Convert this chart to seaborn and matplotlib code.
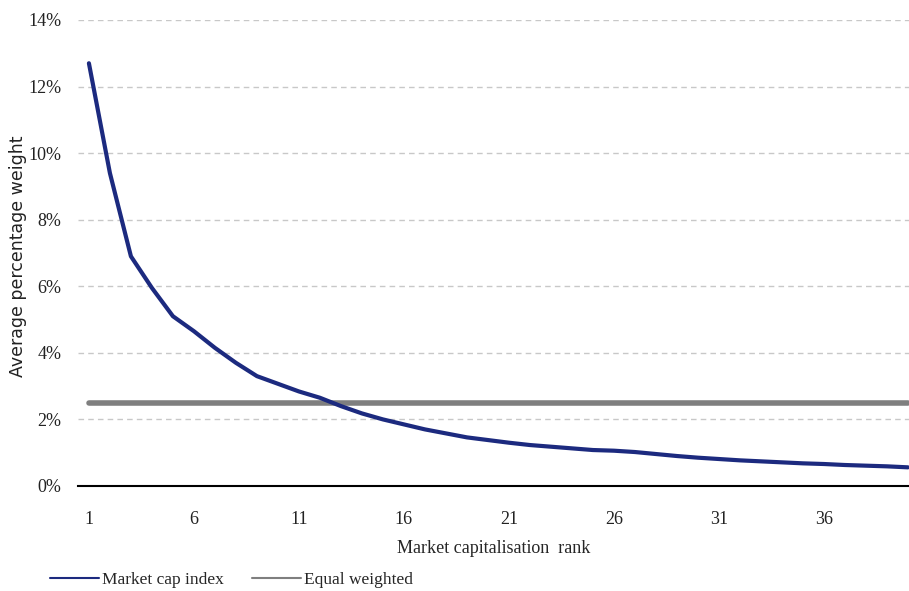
import numpy as np
import pandas as pd
import matplotlib
matplotlib.use('Agg')
import matplotlib.pyplot as plt
import seaborn as sns
from matplotlib.ticker import PercentFormatter

# values (percent weight by rank)
ranks = list(range(1, 41))
market_cap = [12.7, 9.4, 6.9, 5.95, 5.1, 4.65, 4.15, 3.7, 3.3, 3.07,
              2.84, 2.65, 2.4, 2.18, 2.0, 1.85, 1.7, 1.58, 1.46, 1.38,
              1.3, 1.23, 1.18, 1.13, 1.08, 1.06, 1.02, 0.96, 0.9, 0.85,
              0.81, 0.77, 0.74, 0.71, 0.68, 0.66, 0.63, 0.61, 0.59, 0.56]
equal_weight = [2.5] * 40
xtick_labels = [1, 6, 11, 16, 21, 26, 31, 36]
ytick_values = [0, 2, 4, 6, 8, 10, 12, 14]

df = pd.DataFrame({'rank': ranks,
                   'Market cap index': market_cap,
                   'Equal weighted': equal_weight})

sns.set_style('white')
plt.rcParams['font.family'] = ['Liberation Serif', 'DejaVu Serif']

fig = plt.figure(figsize=(9.09, 5.91), dpi=100)
ax = fig.add_axes([0.0858, 0.1777, 1.0 - 0.0858, 0.9662 - 0.1777])

sns.lineplot(data=df, x='rank', y='Equal weighted', ax=ax, color='#7f7f7f',
             lw=4, label='Equal weighted', zorder=3)
sns.lineplot(data=df, x='rank', y='Market cap index', ax=ax, color='#1c2a7f',
             lw=3, label='Market cap index', zorder=4)

ax.set_xlim(0.48, 40.05)
ax.set_ylim(0, 14)
ax.set_yticks(ytick_values)
ax.yaxis.set_major_formatter(PercentFormatter(decimals=0))
ax.set_xticks(xtick_labels)
ax.set_xticklabels([str(v) for v in xtick_labels])

ax.grid(axis='y', linestyle=(0, (4, 3)), color='#c8c8c8', lw=1)
ax.grid(axis='x', visible=False)
for side in ['left', 'right', 'top']:
    ax.spines[side].set_visible(False)
ax.spines['bottom'].set_color('black')
ax.spines['bottom'].set_linewidth(1.5)
ax.tick_params(axis='both', length=0, labelsize=13, colors='#222222')
ax.tick_params(axis='y', pad=12)
ax.tick_params(axis='x', pad=18)

ax.set_xlabel('Market capitalisation  rank', fontsize=13, labelpad=9)
ax.set_ylabel('')
fig.text(0.02, 0.567, 'Average percentage weight', rotation=90,
         ha='center', va='center', fontsize=12.5,
         family=['DejaVu Sans'], color='#222222')

handles, labels = ax.get_legend_handles_labels()
ax.get_legend().remove()
order = [1, 0]
fig.legend([handles[i] for i in order], [labels[i] for i in order],
           loc='lower left', bbox_to_anchor=(0.038, -0.022), ncol=2,
           frameon=False, fontsize=12.5, handlelength=2.8, handletextpad=0.2,
           columnspacing=1.6)
for line in fig.legends[0].get_lines():
    line.set_linewidth(1.5)

fig.savefig('out.png', dpi=100, facecolor='white')
